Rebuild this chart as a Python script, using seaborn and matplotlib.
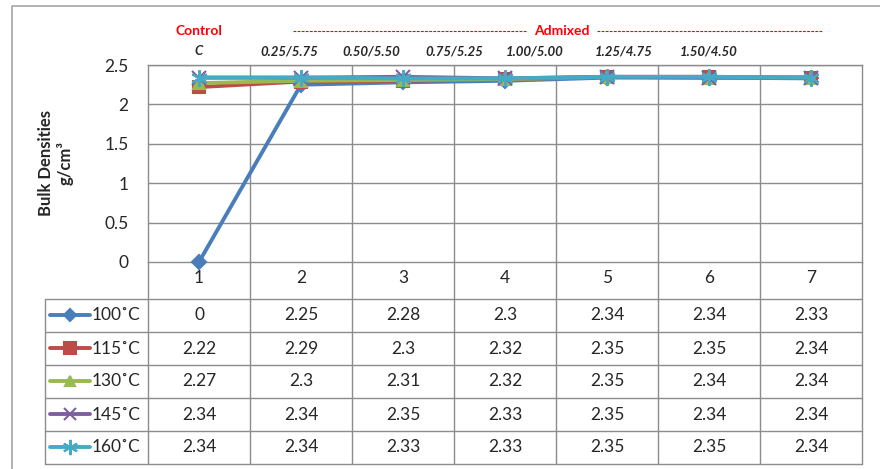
import matplotlib
matplotlib.use("Agg")
import matplotlib.pyplot as plt
import matplotlib.transforms as mtransforms
import numpy as np
import pandas as pd
import seaborn as sns

sns.set_style("white")
plt.rcParams['font.family'] = ['Lato', 'DejaVu Sans']

positions = [1, 2, 3, 4, 5, 6, 7]
ratio_labels = ["C", "0.25/5.75", "0.50/5.50", "0.75/5.25", "1.00/5.00", "1.25/4.75", "1.50/4.50"]
series_names = ["100˚C", "115˚C", "130˚C", "145˚C", "160˚C"]
d100 = [0, 2.25, 2.28, 2.3, 2.34, 2.34, 2.33]
d115 = [2.22, 2.29, 2.3, 2.32, 2.35, 2.35, 2.34]
d130 = [2.27, 2.3, 2.31, 2.32, 2.35, 2.34, 2.34]
d145 = [2.34, 2.34, 2.35, 2.33, 2.35, 2.34, 2.34]
d160 = [2.34, 2.34, 2.33, 2.33, 2.35, 2.35, 2.34]
series_vals = [d100, d115, d130, d145, d160]
colors = ["#4A7EBB", "#BE4B48", "#98B954", "#7D5FA0", "#46AAC5"]
markers = ["D", "s", "^", "x", (6, 2, 0)]
msizes = [7, 9, 8, 10, 12]

W, H = 880, 469
fig = plt.figure(figsize=(W / 100, H / 100), dpi=100)

# pixel-space overlay for the table and framing
bg = fig.add_axes([0, 0, 1, 1])
bg.set_xlim(0, W)
bg.set_ylim(H, 0)
bg.axis("off")

left, right, top, bottom = 148, 862, 65, 262
ax = fig.add_axes([left / W, (H - bottom) / H, (right - left) / W, (bottom - top) / H])
ax.set_facecolor("none")

grid_c = "#8C8C8C"
for i, (name, vals) in enumerate(zip(series_names, series_vals)):
    df = pd.DataFrame({"x": positions, "y": vals})
    sns.lineplot(data=df, x="x", y="y", ax=ax, color=colors[i], marker=markers[i],
                 markersize=msizes[i], markeredgecolor=colors[i], markeredgewidth=1.5,
                 linewidth=2.8, zorder=3 + i, clip_on=False)

ax.set_xlim(0.5, 7.5)
ax.set_ylim(0, 2.5)
ax.set_xticks(positions)
ax.set_xticklabels([str(p) for p in positions], fontsize=12.5)
ax.set_yticks([0, 0.5, 1, 1.5, 2, 2.5])
ax.set_yticklabels(["0", "0.5", "1", "1.5", "2", "2.5"], fontsize=12.5)
ax.tick_params(axis="x", length=0, pad=6)
ax.tick_params(axis="y", length=0, pad=14)
ax.set_xlabel("")
ax.set_ylabel("")
for y in [0.5, 1, 1.5, 2, 2.5]:
    ax.axhline(y, color=grid_c, lw=1, zorder=1)
for xb in np.arange(1.5, 7.5, 1):
    ax.axvline(xb, color=grid_c, lw=1, zorder=1)
for s in ax.spines.values():
    s.set_color(grid_c)
    s.set_linewidth(1)

# table below the plot: x from data columns, y in pixels
tr = mtransforms.blended_transform_factory(ax.transData, bg.transData)
row_tops = [299, 332, 365, 398, 431]
row_h = 33
tab_bottom = row_tops[-1] + row_h
for xb in np.arange(1.5, 7.6, 1):
    bg.plot([xb, xb], [bottom, tab_bottom], color=grid_c, lw=1, transform=tr)
bg.plot([left, left], [bottom, tab_bottom], color=grid_c, lw=1)
for yt in row_tops + [tab_bottom]:
    bg.plot([45, right], [yt, yt], color=grid_c, lw=1)
bg.plot([45, 45], [row_tops[0], tab_bottom], color=grid_c, lw=1)

for i, (name, vals) in enumerate(zip(series_names, series_vals)):
    yc = row_tops[i] + row_h / 2
    bg.plot([50, 90], [yc, yc], color=colors[i], lw=2.8)
    bg.plot([70], [yc], marker=markers[i], color=colors[i], markersize=msizes[i] - 1,
            markeredgecolor=colors[i], markeredgewidth=1.5)
    bg.text(92, yc, name, fontsize=12.5, va="center", ha="left")
    for p, v in zip(positions, vals):
        bg.text(p, yc, "%g" % v, fontsize=12.5, va="center", ha="center", transform=tr)

# header annotations
trh = mtransforms.blended_transform_factory(ax.transData, bg.transData)
bg.text(1, 31, "Control", color="red", fontsize=10, fontweight="bold", ha="center", va="center", transform=trh)
bg.plot([293, 527], [31, 31], color="red", lw=0.8, ls=(0, (2.5, 1.2)))
bg.plot([597, 822], [31, 31], color="red", lw=0.8, ls=(0, (2.5, 1.2)))
bg.text(562, 31, "Admixed", color="red", fontsize=10, fontweight="bold", ha="center", va="center")
label_x = [199, 289, 371, 454, 535, 624, 709]
for lx, lab in zip(label_x, ratio_labels):
    bg.text(lx, 51, lab, fontsize=9.5, fontweight="bold", style="italic", ha="center", va="center")

bg.text(56, 163, "Bulk Densities\ng/cm³", rotation=90, fontsize=12, fontweight="bold",
        ha="center", va="center", linespacing=1.2)

# outer frame
bg.plot([12, 12, 880], [H, 6, 6], color="#A6A6A6", lw=1.2)

fig.savefig("out.png", dpi=100)
